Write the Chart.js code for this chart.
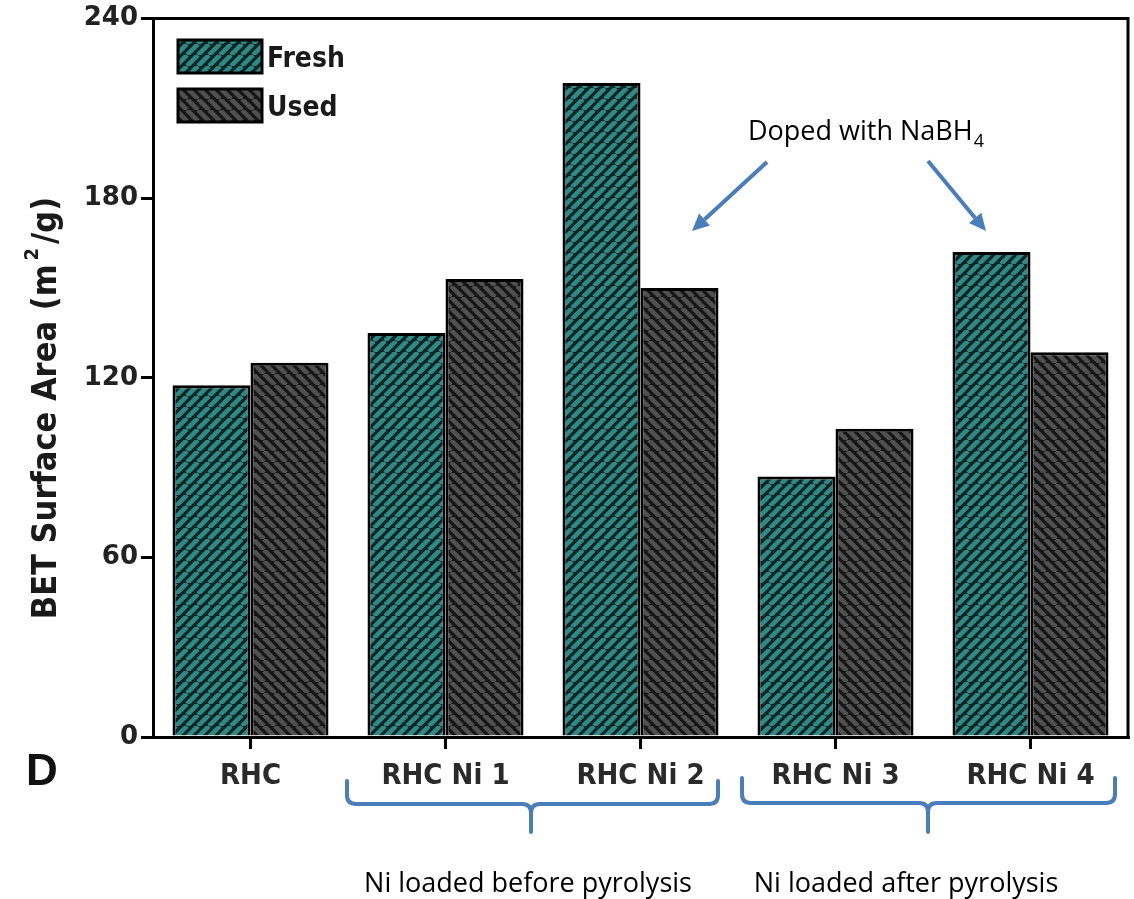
<!DOCTYPE html>
<html>
<head>
<meta charset="utf-8">
<script src="https://cdn.jsdelivr.net/npm/chart.js@4.4.1/dist/chart.umd.min.js"></script>
<style>
  html, body { margin: 0; padding: 0; background: #ffffff; }
  #wrap { position: relative; width: 1134px; height: 899px; }
</style>
</head>
<body>
<div id="wrap"><canvas id="c"></canvas></div>
<script>
// BET surface areas of rice-husk char samples, fresh vs. used
const categories = ['RHC', 'RHC Ni 1', 'RHC Ni 2', 'RHC Ni 3', 'RHC Ni 4'];
const freshValues = [117.5, 135, 218.5, 87, 162];
const usedValues = [125, 153, 150, 103, 128.5];
const yTickValues = [0, 60, 120, 180, 240];
const seriesNames = ['Fresh', 'Used'];

const BLUE = '#4a7ebb';
const AXIS_FONT = '"DejaVu Sans Condensed", "DejaVu Sans", sans-serif';
const NOTE_FONT = '"Open Sans", "Noto Sans", sans-serif';

// Diagonal hatch fill: dark ground with lighter stripes
function hatch(light, dark, rising) {
  const s = 11;
  const t = document.createElement('canvas');
  t.width = s; t.height = s;
  const g = t.getContext('2d');
  g.fillStyle = dark;
  g.fillRect(0, 0, s, s);
  g.strokeStyle = light;
  g.lineWidth = 4.6;
  g.beginPath();
  for (let k = -1; k <= 1; k++) {
    if (rising) { g.moveTo(k * s, s); g.lineTo(k * s + s, 0); }
    else { g.moveTo(k * s, 0); g.lineTo(k * s + s, s); }
  }
  g.stroke();
  return g.createPattern(t, 'repeat');
}

const ctx0 = document.getElementById('c').getContext('2d');
const freshFill = hatch('#2f8a85', '#0f2524', true);
const usedFill = hatch('#505050', '#161616', false);

function arrow(ctx, x1, y1, x2, y2) {
  const ang = Math.atan2(y2 - y1, x2 - x1);
  const head = 17, half = 8;
  const bx = x2 - head * Math.cos(ang), by = y2 - head * Math.sin(ang);
  ctx.beginPath();
  ctx.moveTo(x1, y1);
  ctx.lineTo(bx, by);
  ctx.stroke();
  ctx.beginPath();
  ctx.moveTo(x2, y2);
  ctx.lineTo(bx + half * Math.sin(ang), by - half * Math.cos(ang));
  ctx.lineTo(bx - half * Math.sin(ang), by + half * Math.cos(ang));
  ctx.closePath();
  ctx.fill();
}

function brace(ctx, x1, x2, xc, top, mid, tip) {
  const r = 9;
  ctx.beginPath();
  ctx.moveTo(x1, top);
  ctx.lineTo(x1, mid - r);
  ctx.quadraticCurveTo(x1, mid, x1 + r, mid);
  ctx.lineTo(xc - r, mid);
  ctx.quadraticCurveTo(xc, mid, xc, mid + r);
  ctx.lineTo(xc, tip);
  ctx.moveTo(xc, mid + r);
  ctx.quadraticCurveTo(xc, mid, xc + r, mid);
  ctx.lineTo(x2 - r, mid);
  ctx.quadraticCurveTo(x2, mid, x2, mid - r);
  ctx.lineTo(x2, top);
  ctx.stroke();
}

const decorations = {
  id: 'decorations',
  afterDraw(chart) {
    const ctx = chart.ctx;
    const a = chart.chartArea;
    ctx.save();

    // frame: top and right edges of the plot box
    ctx.strokeStyle = '#000';
    ctx.lineWidth = 3;
    ctx.beginPath();
    ctx.moveTo(a.left, a.top);
    ctx.lineTo(a.right, a.top);
    ctx.lineTo(a.right, a.bottom);
    ctx.stroke();

    // legend in the upper-left corner of the plot
    const boxX = 178, boxW = 84, boxH = 33, rowY = [40, 89];
    chart.data.datasets.forEach((ds, i) => {
      ctx.fillStyle = ds.backgroundColor;
      ctx.fillRect(boxX, rowY[i], boxW, boxH);
      ctx.lineWidth = 3;
      ctx.strokeStyle = '#000';
      ctx.strokeRect(boxX, rowY[i], boxW, boxH);
      ctx.fillStyle = '#1a1a1a';
      ctx.font = 'bold 28px ' + AXIS_FONT;
      ctx.textBaseline = 'alphabetic';
      ctx.textAlign = 'left';
      ctx.fillText(ds.label, boxX + boxW + 5, rowY[i] + 27);
    });

    // y-axis title with superscript
    ctx.save();
    ctx.translate(47, 408);
    ctx.rotate(-Math.PI / 2);
    ctx.fillStyle = '#1a1a1a';
    ctx.textBaseline = 'middle';
    ctx.textAlign = 'left';
    const big = 'bold 34px ' + AXIS_FONT, small = 'bold 20px ' + AXIS_FONT;
    const p1 = 'BET Surface Area (m', p2 = '2', p3 = '/g)';
    ctx.font = big; const w1 = ctx.measureText(p1).width, w3 = ctx.measureText(p3).width;
    ctx.font = small; const w2 = ctx.measureText(p2).width + 8;
    let x = -(w1 + w2 + w3) / 2;
    ctx.font = big; ctx.fillText(p1, x, 0); x += w1;
    ctx.font = small; ctx.fillText(p2, x + 4, -14); x += w2;
    ctx.font = big; ctx.fillText(p3, x, 0);
    ctx.restore();

    // panel letter
    ctx.fillStyle = '#111';
    ctx.font = 'bold 44px "Liberation Sans", Arial, sans-serif';
    ctx.textAlign = 'left';
    ctx.textBaseline = 'alphabetic';
    ctx.fillText('D', 26, 785);

    // note about NaBH4 doping with arrows
    ctx.fillStyle = '#000';
    ctx.font = '27px ' + NOTE_FONT;
    const n1 = 'Doped with NaBH';
    const nw = ctx.measureText(n1).width;
    ctx.fillText(n1, 748, 140);
    ctx.font = '18px ' + NOTE_FONT;
    ctx.fillText('4', 748 + nw + 1, 147);

    ctx.strokeStyle = BLUE;
    ctx.fillStyle = BLUE;
    ctx.lineWidth = 4;
    ctx.lineCap = 'butt';
    arrow(ctx, 767, 162, 692, 231);
    arrow(ctx, 928, 161, 986, 231);

    // group braces and their captions
    ctx.lineWidth = 4;
    ctx.lineCap = 'round';
    ctx.lineJoin = 'round';
    brace(ctx, 347, 718, 531, 781, 804, 832);
    brace(ctx, 742, 1115, 928, 778, 803, 832);

    ctx.fillStyle = '#000';
    ctx.font = '27px ' + NOTE_FONT;
    ctx.textAlign = 'center';
    ctx.fillText('Ni loaded before pyrolysis', 528, 892);
    ctx.fillText('Ni loaded after pyrolysis', 906, 892);

    ctx.restore();
  }
};

new Chart(ctx0, {
  type: 'bar',
  data: {
    labels: categories,
    datasets: [
      { label: seriesNames[0], data: freshValues, backgroundColor: freshFill,
        borderColor: '#000', borderWidth: 3, borderSkipped: 'bottom' },
      { label: seriesNames[1], data: usedValues, backgroundColor: usedFill,
        borderColor: '#000', borderWidth: 3, borderSkipped: 'bottom' }
    ]
  },
  options: {
    responsive: true,
    maintainAspectRatio: false,
    animation: false,
    devicePixelRatio: 1,
    layout: { padding: { left: 0, top: 18, right: 6, bottom: 0 } },
    datasets: { bar: { categoryPercentage: 0.8, barPercentage: 1.0 } },
    plugins: { legend: { display: false }, tooltip: { enabled: false } },
    scales: {
      x: {
        type: 'category',
        offset: true,
        grid: { offset: false, drawOnChartArea: false, drawTicks: true,
                tickLength: 12, color: '#000', lineWidth: 3 },
        border: { display: true, color: '#000', width: 3 },
        ticks: { color: '#2a2a2a', padding: 10, maxRotation: 0,
                 font: { family: AXIS_FONT, size: 29, weight: 'bold' } },
        afterFit(scale) { scale.height = 162; }
      },
      y: {
        min: 0, max: 240,
        afterBuildTicks(scale) { scale.ticks = yTickValues.map(v => ({ value: v })); },
        grid: { drawOnChartArea: false, drawTicks: true, tickLength: 12,
                color: '#000', lineWidth: 3 },
        border: { display: true, color: '#000', width: 3 },
        ticks: { color: '#222', padding: 3,
                 font: { family: '"DejaVu Sans", sans-serif', size: 26, weight: 'bold' } },
        afterFit(scale) { scale.width = 153; }
      }
    }
  },
  plugins: [decorations]
});
</script>
</body>
</html>
